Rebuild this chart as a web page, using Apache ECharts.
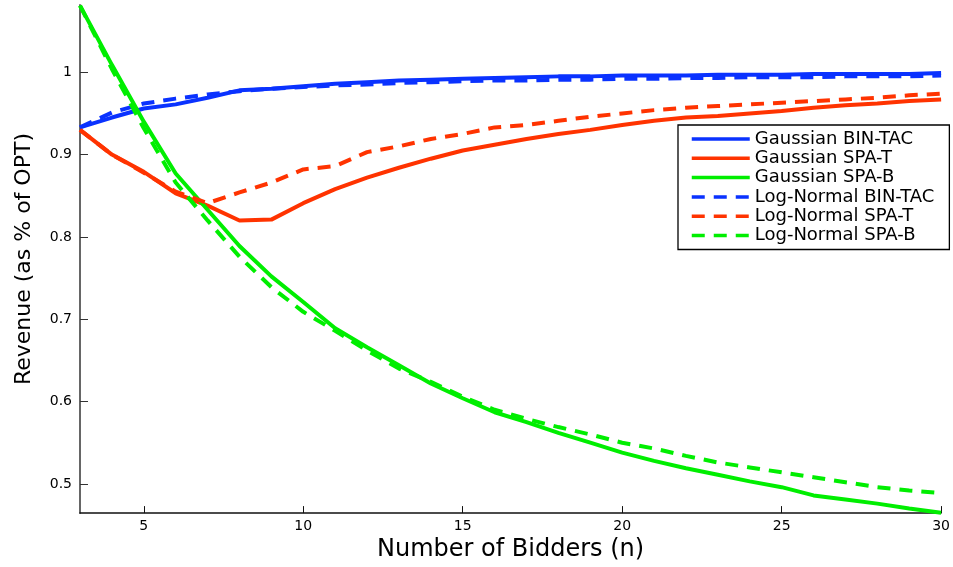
<!DOCTYPE html>
<html>
<head>
<meta charset="utf-8">
<script src="https://cdn.jsdelivr.net/npm/echarts@6/dist/echarts.min.js"></script>
<style>
  html, body { margin: 0; padding: 0; background: #fff; }
  #chart { width: 953px; height: 567px; }
</style>
</head>
<body>
<div id="chart"></div>
<script>
// number of bidders on the x axis
const bidders = [3, 4, 5, 6, 7, 8, 9, 10, 11, 12, 13, 14, 15, 16, 17, 18, 19, 20, 21, 22, 23, 24, 25, 26, 27, 28, 29, 30];

// revenue as share of OPT, one value per bidder count
const gaussianBinTac = [0.933, 0.945, 0.956, 0.961, 0.969, 0.978, 0.980, 0.983, 0.986, 0.988, 0.990, 0.991, 0.992, 0.993, 0.994, 0.995, 0.995, 0.996, 0.996, 0.996, 0.997, 0.997, 0.997, 0.998, 0.998, 0.998, 0.998, 0.999];
const gaussianSpaT = [0.930, 0.900, 0.879, 0.853, 0.838, 0.820, 0.821, 0.841, 0.858, 0.872, 0.884, 0.895, 0.905, 0.912, 0.919, 0.925, 0.930, 0.936, 0.941, 0.945, 0.947, 0.950, 0.953, 0.957, 0.960, 0.962, 0.965, 0.967];
const gaussianSpaB = [1.081, 1.009, 0.940, 0.877, 0.833, 0.789, 0.752, 0.721, 0.689, 0.666, 0.644, 0.622, 0.604, 0.587, 0.575, 0.562, 0.550, 0.538, 0.528, 0.519, 0.511, 0.503, 0.496, 0.486, 0.481, 0.476, 0.470, 0.465];
const logNormalBinTac = [0.933, 0.951, 0.962, 0.968, 0.973, 0.977, 0.980, 0.982, 0.984, 0.985, 0.987, 0.988, 0.989, 0.990, 0.990, 0.991, 0.991, 0.992, 0.992, 0.993, 0.993, 0.994, 0.994, 0.994, 0.995, 0.995, 0.995, 0.996];
const logNormalSpaT = [0.930, 0.900, 0.878, 0.855, 0.841, 0.854, 0.866, 0.882, 0.886, 0.903, 0.910, 0.919, 0.925, 0.933, 0.936, 0.941, 0.946, 0.950, 0.954, 0.957, 0.959, 0.961, 0.963, 0.965, 0.967, 0.969, 0.972, 0.974];
const logNormalSpaB = [1.081, 1.004, 0.932, 0.866, 0.820, 0.776, 0.739, 0.709, 0.686, 0.662, 0.640, 0.624, 0.606, 0.590, 0.579, 0.569, 0.560, 0.550, 0.543, 0.534, 0.526, 0.520, 0.514, 0.508, 0.502, 0.496, 0.492, 0.489];

const xTicks = [5, 10, 15, 20, 25, 30];
const yTicks = [0.5, 0.6, 0.7, 0.8, 0.9, 1];

const BLUE = '#0a32ff';
const RED = '#ff3300';
const GREEN = '#00ee00';
const FONT = 'DejaVu Sans';

function line(name, values, color, dashed) {
    return {
        name: name,
        type: 'line',
        symbol: 'none',
        data: values.map((v, i) => [bidders[i], v]),
        lineStyle: {
            color: color,
            width: 4,
            type: dashed ? [13, 9] : 'solid',
            cap: 'butt'
        },
        itemStyle: { color: color }
    };
}

const chart = echarts.init(document.getElementById('chart'), null, { renderer: 'canvas' });
chart.setOption({
    animation: false,
    backgroundColor: '#fff',
    grid: { left: 80, right: 10, top: 5, bottom: 50 },
    legend: {
        orient: 'vertical',
        left: 678,
        top: 125,
        padding: [5, 15, 5, 12],
        itemWidth: 58,
        itemHeight: 16,
        itemGap: 1.3,
        backgroundColor: '#fff',
        borderColor: '#000',
        borderWidth: 1.3,
        borderRadius: 0,
        // hide the marker, keep the line sample
        itemStyle: { opacity: 0 },
        lineStyle: { width: 3.5 },
        textStyle: { fontFamily: FONT, fontSize: 18, color: '#000', lineHeight: 16 },
        data: ['Gaussian BIN-TAC', 'Gaussian SPA-T', 'Gaussian SPA-B',
               'Log-Normal BIN-TAC', 'Log-Normal SPA-T', 'Log-Normal SPA-B']
    },
    xAxis: {
        type: 'value',
        min: 3,
        max: 30,
        name: 'Number of Bidders (n)',
        nameLocation: 'middle',
        nameGap: 20,
        nameTextStyle: { fontFamily: FONT, fontSize: 24, color: '#000' },
        axisLine: { lineStyle: { color: '#111', width: 1.5 } },
        axisTick: { inside: true, length: 7, customValues: xTicks, lineStyle: { color: '#111', width: 1 } },
        axisLabel: { customValues: xTicks, margin: 6, fontFamily: FONT, fontSize: 14, color: '#000' },
        splitLine: { show: false }
    },
    yAxis: {
        type: 'value',
        min: 0.4645,
        max: 1.0817,
        name: 'Revenue (as % of OPT)',
        nameLocation: 'middle',
        nameGap: 45,
        nameTextStyle: { fontFamily: FONT, fontSize: 22, color: '#000' },
        axisLine: { show: true, lineStyle: { color: '#666', width: 2 } },
        axisTick: { show: true, inside: true, length: 8, customValues: yTicks, lineStyle: { color: '#333', width: 1 } },
        axisLabel: { customValues: yTicks, margin: 8, fontFamily: FONT, fontSize: 14, color: '#000' },
        splitLine: { show: false }
    },
    series: [
        line('Gaussian BIN-TAC', gaussianBinTac, BLUE, false),
        line('Gaussian SPA-T', gaussianSpaT, RED, false),
        line('Gaussian SPA-B', gaussianSpaB, GREEN, false),
        line('Log-Normal BIN-TAC', logNormalBinTac, BLUE, true),
        line('Log-Normal SPA-T', logNormalSpaT, RED, true),
        line('Log-Normal SPA-B', logNormalSpaB, GREEN, true)
    ]
});
</script>
</body>
</html>
